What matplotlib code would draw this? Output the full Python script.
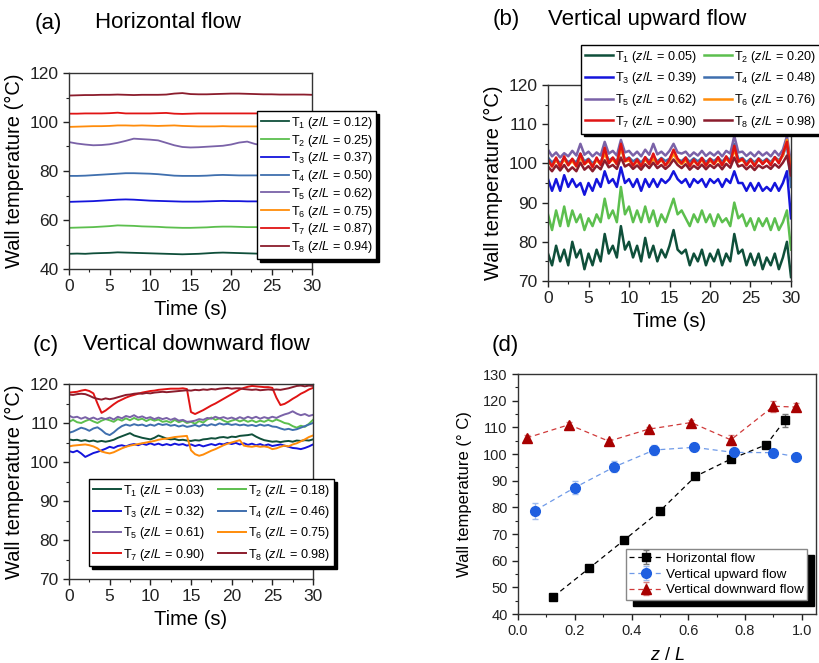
import numpy as np
import matplotlib
matplotlib.use('Agg')
import matplotlib.pyplot as plt
from matplotlib.ticker import MultipleLocator, FormatStrFormatter
from matplotlib.patches import Rectangle

plt.rcParams['font.family'] = ['Liberation Sans', 'DejaVu Sans']
plt.rcParams['mathtext.fontset'] = 'custom'
plt.rcParams['mathtext.rm'] = 'Liberation Sans'
plt.rcParams['mathtext.it'] = 'Liberation Sans:italic'
plt.rcParams['mathtext.bf'] = 'Liberation Sans:bold'

colors = ['#0f4f3a', '#5cbf4e', '#1414dc', '#3f6fae', '#7a62a8', '#ff8c0a', '#e01414', '#8b1c2c']

# ---------- (a) horizontal flow, 1 s steps ----------
time_a = np.arange(0, 31, 1.0)
zl_a = [0.12, 0.25, 0.37, 0.50, 0.62, 0.75, 0.87, 0.94]
Ta = [
    [46.2, 46.3, 46.2, 46.4, 46.5, 46.6, 46.8, 46.7, 46.6, 46.5,
     46.4, 46.3, 46.2, 46.1, 46.0, 46.1, 46.2, 46.4, 46.6, 46.7,
     46.6, 46.5, 46.4, 46.3, 46.2, 46.2, 46.2, 46.2, 46.2, 46.2, 46.2],
    [56.8, 56.9, 57.0, 57.1, 57.3, 57.5, 57.8, 57.7, 57.6, 57.4,
     57.3, 57.2, 57.0, 56.9, 56.8, 56.8, 56.9, 57.0, 57.2, 57.3,
     57.3, 57.2, 57.1, 57.1, 57.1, 57.0, 57.0, 57.0, 57.0, 57.0, 57.0],
    [67.4, 67.5, 67.6, 67.7, 67.9, 68.1, 68.3, 68.4, 68.3, 68.1,
     67.9, 67.8, 67.7, 67.6, 67.5, 67.5, 67.5, 67.6, 67.7, 67.8,
     67.7, 67.7, 67.6, 67.6, 67.6, 67.6, 67.6, 67.6, 67.6, 67.6, 67.6],
    [78.0, 78.0, 78.1, 78.3, 78.5, 78.7, 78.9, 79.1, 79.1, 79.0,
     78.9, 78.7, 78.4, 78.1, 78.0, 78.0, 78.0, 78.1, 78.3, 78.4,
     78.3, 78.2, 78.2, 78.2, 78.2, 78.2, 78.2, 78.2, 78.2, 78.2, 78.2],
    [91.8, 91.2, 90.8, 90.5, 90.6, 90.9, 91.5, 92.3, 93.2, 93.0,
     92.8, 92.5, 91.5, 90.5, 89.8, 89.6, 89.7, 89.9, 90.1, 90.3,
     90.8, 91.6, 92.0, 91.0, 90.5, 90.5, 90.5, 90.5, 90.5, 90.5, 90.5],
    [98.0, 98.1, 98.2, 98.3, 98.3, 98.4, 98.6, 98.6, 98.5, 98.6,
     98.5, 98.4, 98.5, 98.6, 98.4, 98.3, 98.2, 98.2, 98.2, 98.3,
     98.2, 98.2, 98.2, 98.2, 98.2, 98.2, 98.2, 98.2, 98.2, 98.2, 98.2],
    [103.4, 103.4, 103.5, 103.5, 103.5, 103.6, 103.8, 103.5, 103.5, 103.5,
     103.5, 103.6, 103.7, 103.4, 103.3, 103.4, 103.5, 103.5, 103.5, 103.5,
     103.5, 103.5, 103.5, 103.5, 103.5, 103.5, 103.5, 103.5, 103.5, 103.5, 103.5],
    [110.8, 110.9, 111.0, 111.0, 111.1, 111.1, 111.2, 111.1, 111.0, 111.1,
     111.1, 111.1, 111.2, 111.6, 111.8, 111.4, 111.3, 111.3, 111.4, 111.5,
     111.6, 111.6, 111.5, 111.4, 111.3, 111.3, 111.2, 111.2, 111.2, 111.2, 111.1],
]

# ---------- (b) vertical upward flow, 0.5 s steps ----------
time_b = np.arange(0, 30.01, 0.5)
zl_b = [0.05, 0.20, 0.39, 0.48, 0.62, 0.76, 0.90, 0.98]
Tb = [
    [77, 74, 79, 75, 78, 74, 80, 76, 78, 73,
     77, 74, 78, 75, 82, 77, 79, 76, 84, 78,
     80, 76, 79, 75, 81, 76, 79, 75, 78, 76,
     79, 83, 78, 77, 78, 74, 77, 75, 78, 74,
     77, 75, 78, 74, 77, 75, 82, 77, 78, 74,
     77, 74, 77, 73, 76, 74, 77, 73, 76, 80,
     71],
    [87, 83, 88, 84, 89, 84, 88, 85, 87, 83,
     86, 84, 87, 85, 91, 86, 88, 85, 94, 87,
     89, 85, 88, 85, 89, 85, 88, 84, 87, 85,
     88, 91, 87, 88, 86, 84, 87, 85, 88, 85,
     87, 84, 87, 85, 86, 84, 90, 86, 87, 84,
     86, 83, 86, 84, 86, 83, 86, 83, 85, 88,
     78],
    [96, 93, 96, 93, 97, 94, 96, 94, 95, 92,
     95, 93, 96, 94, 98, 95, 96, 94, 99, 95,
     96, 94, 96, 93, 96, 94, 96, 94, 96, 95,
     96, 98, 96, 95, 96, 94, 96, 95, 96, 94,
     96, 95, 96, 94, 96, 95, 98, 95, 95, 93,
     95, 93, 95, 93, 94, 93, 95, 93, 95, 98,
     86],
    [101.5, 100.2, 101.2, 100.0, 101.4, 100.3, 101.0, 100.2, 102.5, 100.5,
     101.2, 100.0, 101.0, 100.3, 103.0, 100.8, 101.4, 100.4, 104.0, 101.0,
     101.5, 100.5, 101.2, 100.2, 101.5, 100.6, 101.8, 100.5, 101.4, 100.6,
     101.2, 103.0, 101.0, 100.6, 101.5, 100.4, 101.3, 100.5, 101.4, 100.3,
     101.2, 100.6, 101.5, 100.4, 101.6, 100.8, 105.0, 101.0, 101.4, 100.3,
     101.2, 100.2, 101.3, 100.4, 101.2, 100.3, 101.6, 100.8, 102.0, 105.0,
     94.0],
    [103.5, 101.8, 102.8, 101.5, 102.6, 101.8, 103.2, 102.0, 105.0, 102.2,
     103.0, 101.8, 102.8, 102.0, 105.5, 102.5, 103.2, 102.0, 106.0, 102.8,
     103.2, 102.0, 103.0, 101.8, 103.5, 102.2, 105.0, 102.3, 103.0, 102.0,
     103.2, 105.0, 102.8, 102.5, 103.0, 101.8, 102.8, 102.0, 103.2, 101.9,
     102.8, 102.0, 103.0, 101.8, 103.2, 102.5, 107.0, 102.8, 103.0, 101.9,
     102.8, 101.8, 103.0, 102.0, 102.8, 101.8, 103.2, 102.0, 103.5, 107.0,
     100.0],
    [100.5, 99.3, 100.8, 99.5, 101.0, 99.6, 100.6, 99.2, 101.5, 99.8,
     100.6, 99.4, 100.8, 99.8, 102.5, 100.2, 101.0, 99.8, 104.0, 100.5,
     100.8, 99.6, 100.5, 99.4, 101.0, 99.8, 101.2, 100.0, 100.8, 99.6,
     100.5, 102.5, 100.6, 99.8, 100.8, 99.4, 100.6, 99.7, 100.9, 99.5,
     100.7, 99.8, 101.0, 99.6, 101.2, 100.1, 103.5, 100.4, 100.9, 99.6,
     100.8, 99.6, 101.0, 100.0, 100.8, 99.8, 101.4, 100.4, 102.0, 106.0,
     98.0],
    [101.0, 99.2, 101.5, 99.0, 101.8, 99.5, 101.2, 99.3, 102.5, 99.8,
     101.0, 99.0, 101.5, 99.6, 104.0, 100.0, 101.5, 99.8, 105.0, 100.6,
     101.4, 99.4, 101.0, 99.2, 101.6, 99.8, 102.5, 99.8, 101.2, 99.5,
     101.0, 103.5, 101.2, 100.0, 101.5, 99.3, 101.0, 99.5, 101.4, 99.4,
     101.2, 99.8, 101.6, 99.5, 101.8, 100.0, 104.5, 100.5, 101.2, 99.5,
     101.0, 99.3, 101.2, 99.8, 101.0, 99.5, 101.6, 100.0, 102.5, 105.5,
     97.0],
    [99.2, 98.0, 99.5, 98.2, 99.6, 98.0, 99.0, 98.0, 100.2, 98.4,
     99.3, 98.0, 99.4, 98.5, 100.8, 99.0, 99.6, 98.6, 101.5, 99.2,
     99.8, 98.6, 99.5, 98.4, 99.8, 98.8, 100.2, 98.8, 99.6, 98.6,
     99.5, 101.0, 99.6, 98.8, 99.8, 98.4, 99.4, 98.6, 99.7, 98.5,
     99.6, 98.8, 99.8, 98.5, 99.9, 98.9, 101.5, 99.2, 99.6, 98.5,
     99.4, 98.3, 99.5, 98.8, 99.4, 98.6, 99.8, 98.9, 100.2, 102.0,
     97.0],
]

# ---------- (c) vertical downward flow, 0.5 s steps ----------
time_c = np.arange(0, 30.01, 0.5)
zl_c = [0.03, 0.18, 0.32, 0.46, 0.61, 0.75, 0.90, 0.98]
Tc = [
    [105.8, 105.6, 105.7, 105.4, 105.6, 105.3, 105.5, 105.2, 105.4, 105.2,
     105.4, 105.7, 106.2, 106.6, 107.0, 107.4, 106.8, 106.5, 106.2, 106.0,
     105.8, 106.2, 106.8, 106.4, 106.0, 105.8, 105.9, 105.6, 105.7, 105.5,
     105.4, 105.6, 105.5, 105.8, 105.9, 106.1, 106.0, 106.3, 106.4, 106.2,
     106.5, 106.4, 106.7, 106.8, 106.9, 107.1, 106.5, 106.0, 105.6, 105.4,
     105.2, 105.3, 105.1, 105.3, 105.4, 105.2, 105.5, 105.4, 105.6, 105.5,
     105.8],
    [110.3, 110.8, 110.2, 110.0, 110.5, 110.9, 110.4, 110.0, 110.6, 111.0,
     110.7, 110.3, 111.0, 110.6, 111.2, 110.7, 111.3, 110.8, 111.1, 110.5,
     111.0, 110.6, 110.9, 110.3, 110.5, 110.1, 110.8, 110.2, 110.6, 110.0,
     110.3, 109.8, 110.5, 110.1, 110.9, 111.4, 110.8, 111.2, 110.6, 110.2,
     110.6, 110.9, 110.4, 110.8, 110.3, 110.7, 110.2, 110.6, 110.3, 110.8,
     110.4, 110.9, 110.5, 110.0, 109.8, 109.2, 108.8, 109.3, 109.0, 109.8,
     110.8],
    [102.8, 102.5, 102.9, 102.2, 101.3, 101.8, 102.3, 102.6, 103.0, 103.4,
     103.9, 103.6, 104.1, 104.3, 104.0, 104.4, 104.6, 104.3, 104.7, 104.4,
     104.8, 104.4, 104.7, 104.3, 104.6, 104.3, 104.7, 104.4, 104.6, 104.2,
     104.5, 104.1, 104.4, 104.0, 104.3, 104.6, 104.3, 104.7, 104.5, 104.9,
     104.6, 104.9, 104.5, 104.8, 104.4, 104.7, 104.3, 104.6, 104.2, 104.5,
     104.1, 104.3, 104.5, 104.2, 103.9, 103.6, 103.5, 103.3, 103.6, 104.0,
     104.5],
    [107.5, 107.8, 108.3, 108.8, 108.5, 108.0, 108.6, 108.9, 108.2, 107.3,
     106.9, 107.6, 108.5, 109.2, 109.6, 109.3, 109.7, 109.4, 109.6, 109.2,
     109.6, 109.3, 109.8, 109.5, 109.7, 109.3, 109.5, 109.1, 109.4, 109.0,
     109.2, 109.5, 109.1, 109.6, 109.3, 109.7, 109.4, 109.9, 109.6, 109.8,
     109.5, 109.7, 109.4, 109.6, 109.3, 109.5, 109.2, 109.6, 109.3, 109.5,
     109.1, 109.0, 108.6, 108.3, 108.5, 108.2, 108.4, 108.8, 109.2, 109.6,
     110.0],
    [111.9, 111.4, 111.6, 111.1, 111.5, 111.0, 111.4, 110.9, 111.3, 111.0,
     111.4, 110.9, 111.6, 111.2, 111.8, 111.5, 112.0, 111.4, 111.7, 111.2,
     111.5, 111.0, 111.4, 111.0, 111.3, 110.8, 111.2, 110.6, 110.8, 110.3,
     110.4, 110.6, 111.0, 110.8, 111.3, 111.1, 111.6, 111.2, 111.5, 111.1,
     111.4, 111.0, 111.5, 111.1, 111.6, 111.2, 111.6, 111.1, 111.5, 111.2,
     111.6, 111.3, 111.8, 112.2, 112.5, 113.0, 112.4, 112.0, 112.3, 111.8,
     112.1],
    [104.0, 104.2, 104.3, 104.4, 104.5, 104.3, 104.0, 103.5, 102.7, 102.4,
     102.2, 102.5, 103.0, 103.5, 103.9, 104.2, 104.4, 104.6, 104.8, 105.0,
     105.2, 105.4, 105.7, 105.9, 106.0, 106.2, 106.4, 106.5, 106.6, 106.7,
     103.0, 102.0, 101.6, 101.9, 102.4, 102.9, 103.3, 103.8, 104.3, 104.7,
     105.0, 105.3, 105.6, 104.2, 104.0, 103.9, 104.1, 103.9, 104.0, 103.8,
     103.3, 103.5, 103.9, 104.2, 104.0, 104.5, 104.8, 105.3, 105.8, 106.4,
     106.8],
    [117.8, 117.9, 118.0, 118.3, 118.5, 118.2, 117.6, 115.0, 112.6, 113.2,
     114.0, 114.8, 115.5, 116.0, 116.5, 116.9, 117.2, 117.5, 117.8, 118.0,
     118.2, 118.3, 118.5, 118.6, 118.7, 118.8, 118.8, 118.8, 118.9, 118.7,
     112.8, 112.3, 112.8, 113.3, 113.9, 114.5, 115.0, 115.6, 116.2, 116.8,
     117.4, 118.0, 118.6, 119.0, 119.3, 119.5, 119.4, 119.3, 119.2, 119.2,
     119.0, 116.5, 114.6, 114.9, 115.5, 116.2, 116.8, 117.5, 118.0, 118.6,
     119.0],
    [117.3, 117.2, 117.4, 117.5, 117.4, 117.0, 116.5, 116.2, 116.0, 116.3,
     116.1, 116.3, 116.6, 116.9, 117.2, 117.3, 117.5, 117.6, 117.5, 117.7,
     117.6, 117.8, 117.9, 118.0, 117.9, 118.0, 118.1, 118.2, 118.3, 118.4,
     118.3, 118.5, 118.4, 118.6, 118.5, 118.7, 118.6, 118.8, 118.9, 119.0,
     118.8, 118.9, 118.9, 118.7, 118.6, 118.5, 118.6, 118.4, 118.5, 118.6,
     118.5, 118.6, 118.5, 118.7, 118.9, 119.2, 119.5, 119.6, 119.4, 119.6,
     119.5],
]

# ---------- (d) mean wall temperature ----------
zl_h = [0.125, 0.25, 0.375, 0.50, 0.625, 0.75, 0.875, 0.94]
T_h = [46.5, 57.1, 67.8, 78.6, 91.6, 98.1, 103.5, 112.6]
err_h = [0.5, 0.5, 0.5, 0.5, 0.6, 0.6, 0.6, 2.5]
zl_u = [0.06, 0.20, 0.34, 0.48, 0.62, 0.76, 0.90, 0.98]
T_u = [78.8, 87.4, 95.2, 101.5, 102.5, 100.6, 100.5, 99.0]
err_u = [3.0, 2.5, 2.0, 2.0, 1.5, 1.5, 1.5, 1.0]
zl_d = [0.03, 0.18, 0.32, 0.46, 0.61, 0.75, 0.90, 0.98]
T_d = [106.0, 111.0, 104.8, 109.3, 111.8, 105.3, 117.9, 117.6]
err_d = [1.0, 1.0, 1.0, 1.0, 1.0, 2.0, 2.0, 1.5]

W, H = 819, 663
fig = plt.figure(figsize=(W / 100, H / 100), dpi=100)


def box(x0, y0, x1, y1):
    return [x0 / W, 1 - y1 / H, (x1 - x0) / W, (y1 - y0) / H]


def style(ax, fs=12.5):
    for s in ax.spines.values():
        s.set_linewidth(1.0)
        s.set_color('#333333')
    ax.tick_params(which='both', direction='out', top=False, right=False, labelsize=fs,
                   colors='#222222')
    ax.tick_params(which='major', length=4, width=1)
    ax.tick_params(which='minor', length=2, width=0.8)


def series_panel(ax, t, data, zl, ylim, lw):
    for i, y in enumerate(data):
        ax.plot(t, y, color=colors[i], lw=lw,
                label='T$_{%d}$ ($z$/$L$ = %.2f)' % (i + 1, zl[i]))
    ax.set_xlim(0, 30)
    ax.set_ylim(*ylim)
    ax.xaxis.set_major_locator(MultipleLocator(5))
    ax.xaxis.set_minor_locator(MultipleLocator(2.5))
    ax.yaxis.set_major_locator(MultipleLocator(10 if ylim[0] == 70 else 20))
    ax.yaxis.set_minor_locator(MultipleLocator(5 if ylim[0] == 70 else 10))
    ax.set_xlabel('Time (s)', fontsize=14.5)
    ax.set_ylabel('Wall temperature (\u00b0C)', fontsize=14.5)
    style(ax)


def row_order(ax):
    # two-column legend filled row by row: T1 T2 / T3 T4 / ...
    h, l = ax.get_legend_handles_labels()
    idx = [0, 2, 4, 6, 1, 3, 5, 7]
    return [h[i] for i in idx], [l[i] for i in idx]


shadow_small = {'facecolor': 'k', 'edgecolor': 'k', 'alpha': 1}
leg_kw = dict(loc='upper left', borderaxespad=0, fontsize=9.1, handlelength=2.2,
              handletextpad=0.15, fancybox=False, edgecolor='k', framealpha=1,
              shadow=shadow_small, borderpad=0.3)

# (a)
axa = fig.add_axes(box(69, 73, 312, 269))
series_panel(axa, time_a, Ta, zl_a, (40, 120), 1.3)
lg = axa.legend(bbox_to_anchor=(0.774, 0.806), labelspacing=0.14, **leg_kw)
lg.get_frame().set_linewidth(1.0)

# (b)
axb = fig.add_axes(box(548, 85, 791, 281))
series_panel(axb, time_b, Tb, zl_b, (70, 120), 1.8)
h, l = row_order(axb)
lg = axb.legend(h, l, bbox_to_anchor=(0.136, 1.204), ncol=2, labelspacing=0.45,
                columnspacing=0.6, **leg_kw)
lg.get_frame().set_linewidth(1.0)

# (c)
axc = fig.add_axes(box(69, 384, 313, 579))
series_panel(axc, time_c, Tc, zl_c, (70, 120), 1.4)
h, l = row_order(axc)
lg = axc.legend(h, l, bbox_to_anchor=(0.082, 0.513), ncol=2, labelspacing=0.42,
                columnspacing=1.1, **leg_kw)
lg.get_frame().set_linewidth(1.0)

# (d)
axd = fig.add_axes(box(518, 374, 816, 614))
axd.errorbar(zl_h, T_h, yerr=err_h, fmt='s--', color='k', ecolor='#777777', ms=6,
             lw=0.9, elinewidth=1, capsize=2, dashes=(4, 3), label='Horizontal flow')
axd.errorbar(zl_u, T_u, yerr=err_u, fmt='o--', color='#6f9ae8', mfc='#1f5fe0', mec='#1f5fe0',
             ecolor='#9fbcef', ms=7, lw=0.9, elinewidth=1, capsize=2, dashes=(4, 3),
             label='Vertical upward flow')
axd.errorbar(zl_d, T_d, yerr=err_d, fmt='^--', color='#d03a3a', mfc='#a80000', mec='#a80000',
             ecolor='#d88080', ms=7, lw=0.9, elinewidth=1, capsize=2, dashes=(4, 3),
             label='Vertical downward flow')
axd.set_xlim(0, 1.05)
axd.set_ylim(40, 130)
axd.xaxis.set_major_locator(MultipleLocator(0.2))
axd.xaxis.set_minor_locator(MultipleLocator(0.1))
axd.yaxis.set_major_locator(MultipleLocator(10))
axd.yaxis.set_minor_locator(MultipleLocator(5))
axd.xaxis.set_major_formatter(FormatStrFormatter('%.1f'))
style(axd, fs=10.5)
axd.set_ylabel('Wall temperature (\u00b0 C)', fontsize=12, labelpad=8)
axd.set_xlabel('$z$ / $L$', fontsize=13, labelpad=6)
lgd = axd.legend(loc='upper left', bbox_to_anchor=(0.362, 0.271), borderaxespad=0,
                 fontsize=9.7, handlelength=2.5, handletextpad=0.2, labelspacing=0.25,
                 fancybox=False, edgecolor='#888888', framealpha=1, borderpad=0.25)
lgd.get_frame().set_linewidth(1.0)

# panel titles
fig.text(35 / W, 1 - 23 / H, '(a)', fontsize=16, va='center')
fig.text(95 / W, 1 - 23 / H, 'Horizontal flow', fontsize=16, va='center')
fig.text(493 / W, 1 - 20 / H, '(b)', fontsize=16, va='center')
fig.text(548 / W, 1 - 20 / H, 'Vertical upward flow', fontsize=16, va='center')
fig.text(33 / W, 1 - 345 / H, '(c)', fontsize=16, va='center')
fig.text(83 / W, 1 - 345 / H, 'Vertical downward flow', fontsize=16, va='center')
fig.text(492 / W, 1 - 345 / H, '(d)', fontsize=16, va='center')

# big black offset shadow behind legend (d)
fig.canvas.draw()
bb = lgd.get_window_extent()
sh = Rectangle((bb.x0 + 7, bb.y0 - 6), bb.width, bb.height, transform=None,
               facecolor='k', edgecolor='k', zorder=lgd.get_zorder() - 0.5)
axd.add_patch(sh)
sh.set_clip_on(False)

fig.savefig('out.png', dpi=100)
